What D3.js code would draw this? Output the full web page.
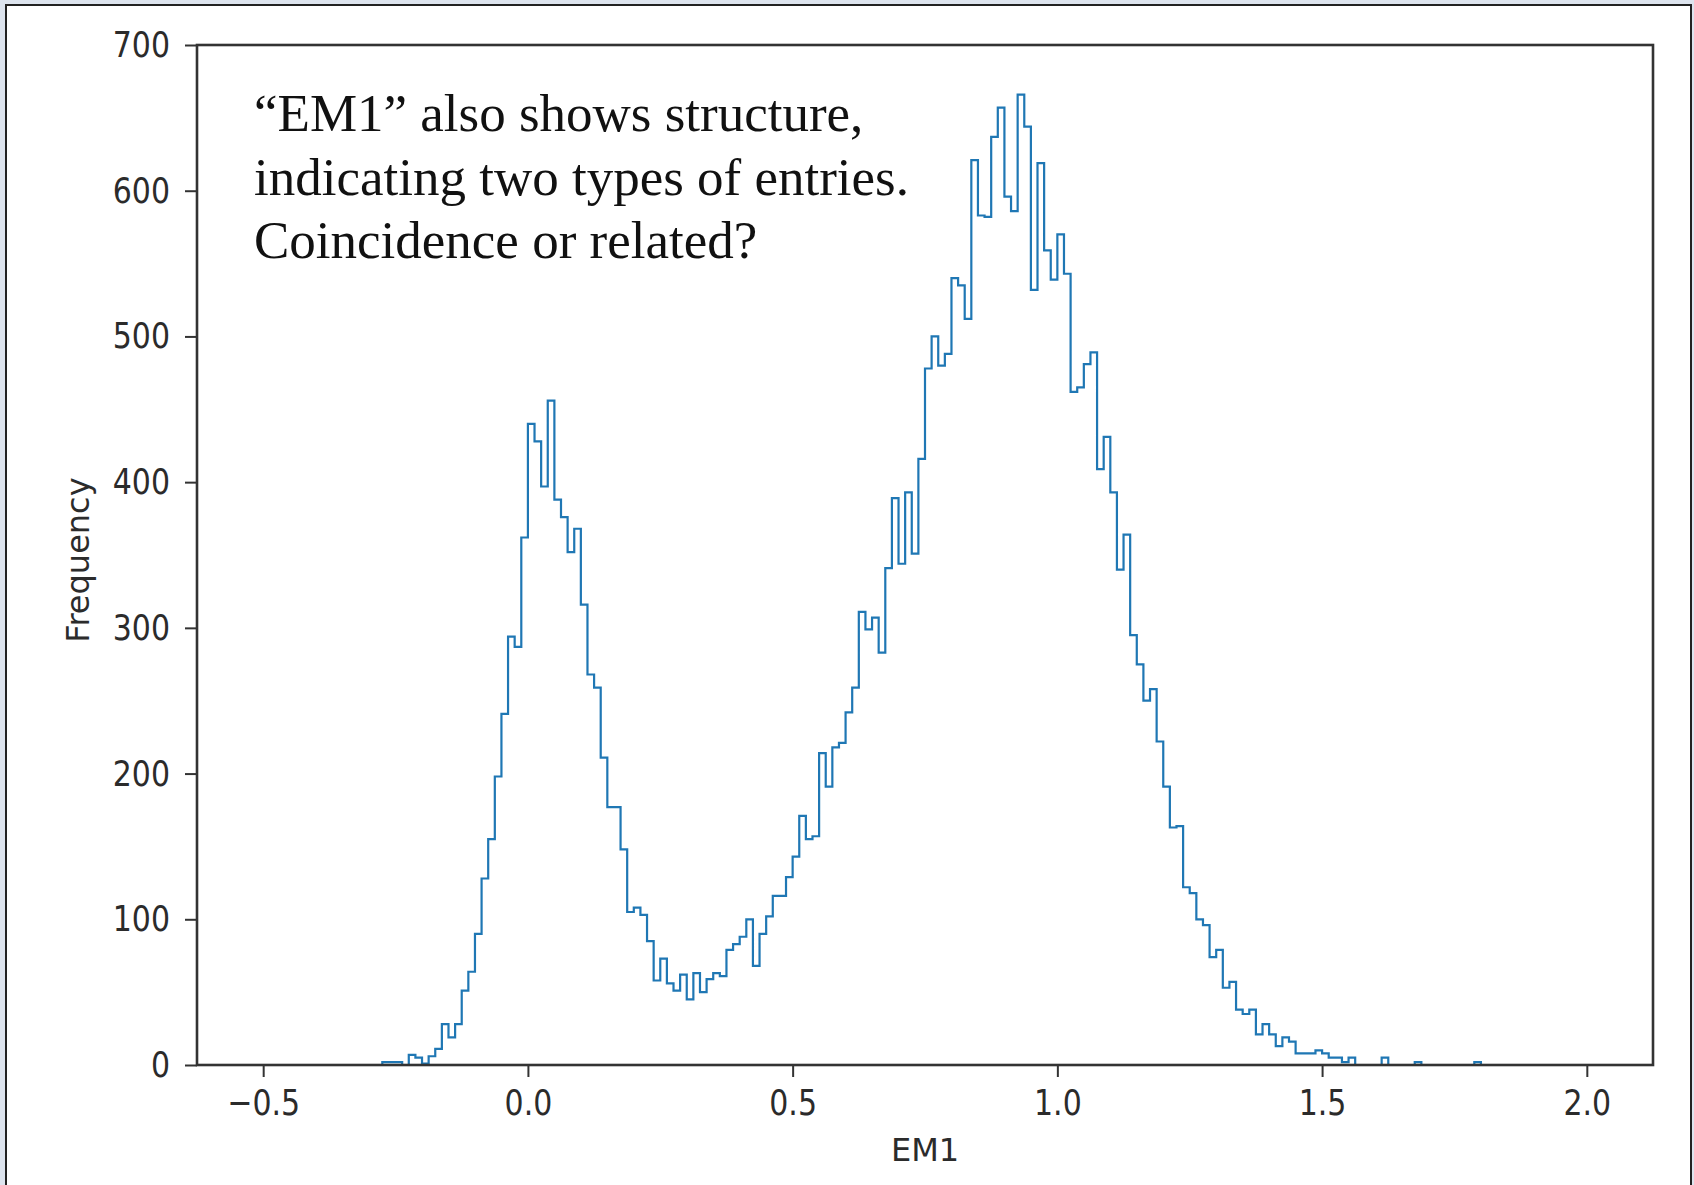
<!DOCTYPE html>
<html>
<head>
<meta charset="utf-8">
<script src="https://cdn.jsdelivr.net/npm/d3@7"></script>
<style>
    body { margin: 0; background: #dde4ee; }
    svg { display: block; }
    .axis text { font-family: "DejaVu Sans"; font-size: 30px; fill: #2b2b2b; }
    .axis line { stroke: #333; stroke-width: 2; }
    .label { font-family: "DejaVu Sans"; font-size: 32px; fill: #2b2b2b; }
    .note { font-family: "Liberation Serif"; font-size: 53px; fill: #111; }
</style>
</head>
<body>
<div id="chart"></div>
<script>
    // histogram of EM1, 200 equal bins from -0.5 to 2.0
    var binStart = -0.5;
    var binWidth = 0.0125;
    var counts = [
        0, 0, 0, 0, 0, 0, 0, 0, 0, 0, 0, 0, 0, 0, 0, 0, 0, 0,
        2, 2, 2, 0,
        7, 5, 1, 6, 11, 28, 19, 28,
        51, 64, 90, 128, 155, 198, 241, 294, 287, 362,
        440, 428, 397, 456, 388, 376, 352, 368, 316, 268,
        259, 211, 177, 177, 148, 105, 108, 103, 85, 58,
        73, 56, 51, 62, 45, 63, 50, 59, 63, 61,
        79, 83, 88, 100, 68, 90, 102, 116, 116, 129,
        143, 171, 155, 157, 214, 191, 218, 221, 242, 259,
        311, 299, 307, 283, 341, 389, 344, 393, 351, 416,
        478, 500, 480, 488, 540, 535, 512, 621, 583, 582,
        637, 657, 596, 586, 666, 644, 532, 619, 559, 539,
        570, 543, 462, 465, 481, 489, 409, 431, 393, 340,
        364, 295, 275, 250, 258, 222, 191, 163, 164, 122,
        118, 100, 96, 74, 79, 53, 57, 38, 35, 38,
        21, 28, 21, 13, 19, 16, 8, 8, 8, 10,
        8, 5, 5, 2, 5, 0, 0, 0, 0, 5,
        0, 0, 0, 0, 2, 0, 0, 0, 0, 0,
        0, 0, 0, 2, 0, 0, 0, 0, 0, 0,
        0, 0, 0, 0, 0, 0, 0, 0, 0, 0
    ];
    var xTicks = [-0.5, 0.0, 0.5, 1.0, 1.5, 2.0];
    var yTicks = [0, 100, 200, 300, 400, 500, 600, 700];
    var xLabel = "EM1";
    var yLabel = "Frequency";
    var noteLines = [
        "\u201cEM1\u201d also shows structure,",
        "indicating two types of entries.",
        "Coincidence or related?"
    ];

    var W = 1694, H = 1185;
    var margin = { top: 45, left: 197, right: 41, bottom: 120 };
    var width = W - margin.left - margin.right;
    var height = H - margin.top - margin.bottom;

    var svg = d3.select("#chart").append("svg")
        .attr("width", W)
        .attr("height", H);

    // slide frame round the figure
    svg.append("rect")
        .attr("x", 6).attr("y", 5)
        .attr("width", W - 9).attr("height", H + 20)
        .attr("fill", "white")
        .attr("stroke", "#222")
        .attr("stroke-width", 2);

    var g = svg.append("g")
        .attr("transform", "translate(" + margin.left + "," + margin.top + ")");

    var x = d3.scaleLinear().domain([-0.625, 2.125]).range([0, width]);
    var y = d3.scaleLinear().domain([0, 700]).range([height, 0]);

    var xAxis = d3.axisBottom(x)
        .tickValues(xTicks)
        .tickFormat(d3.format(".1f"))
        .tickSize(12)
        .tickPadding(8);

    var yAxis = d3.axisLeft(y)
        .tickValues(yTicks)
        .tickFormat(d3.format("d"))
        .tickSize(12)
        .tickPadding(15);

    var gx = g.append("g")
        .attr("class", "axis")
        .attr("transform", "translate(0," + height + ")")
        .call(xAxis);
    gx.select(".domain").remove();

    var gy = g.append("g")
        .attr("class", "axis")
        .call(yAxis);
    gy.select(".domain").remove();

    // tick labels in the picture are a bit taller than they are wide
    g.selectAll(".axis text").attr("transform", "scale(1,1.2)");

    // step outline of the histogram
    var pts = [[binStart, 0]];
    counts.forEach(function (c, i) {
        pts.push([binStart + i * binWidth, c]);
        pts.push([binStart + (i + 1) * binWidth, c]);
    });
    pts.push([binStart + counts.length * binWidth, 0]);

    var line = d3.line()
        .x(function (d) { return x(d[0]); })
        .y(function (d) { return y(d[1]); });

    g.append("path")
        .datum(pts)
        .attr("d", line)
        .attr("fill", "none")
        .attr("stroke", "#1f77b4")
        .attr("stroke-width", 2.2)
        .attr("stroke-linejoin", "miter");

    // spines, drawn over the zero bins
    g.append("rect")
        .attr("width", width)
        .attr("height", height)
        .attr("fill", "none")
        .attr("stroke", "#333")
        .attr("stroke-width", 2.6);

    g.append("text")
        .attr("class", "label")
        .attr("x", width / 2)
        .attr("y", height + 96)
        .attr("text-anchor", "middle")
        .text(xLabel);

    g.append("text")
        .attr("class", "label")
        .attr("transform", "rotate(-90)")
        .attr("x", -height / 2 - 5)
        .attr("y", -margin.left + 89)
        .attr("text-anchor", "middle")
        .text(yLabel);

    g.append("g")
        .selectAll("text")
        .data(noteLines)
        .enter().append("text")
        .attr("class", "note")
        .attr("x", 57)
        .attr("y", function (d, i) { return 86 + i * 63.5; })
        .text(function (d) { return d; });
</script>
</body>
</html>
